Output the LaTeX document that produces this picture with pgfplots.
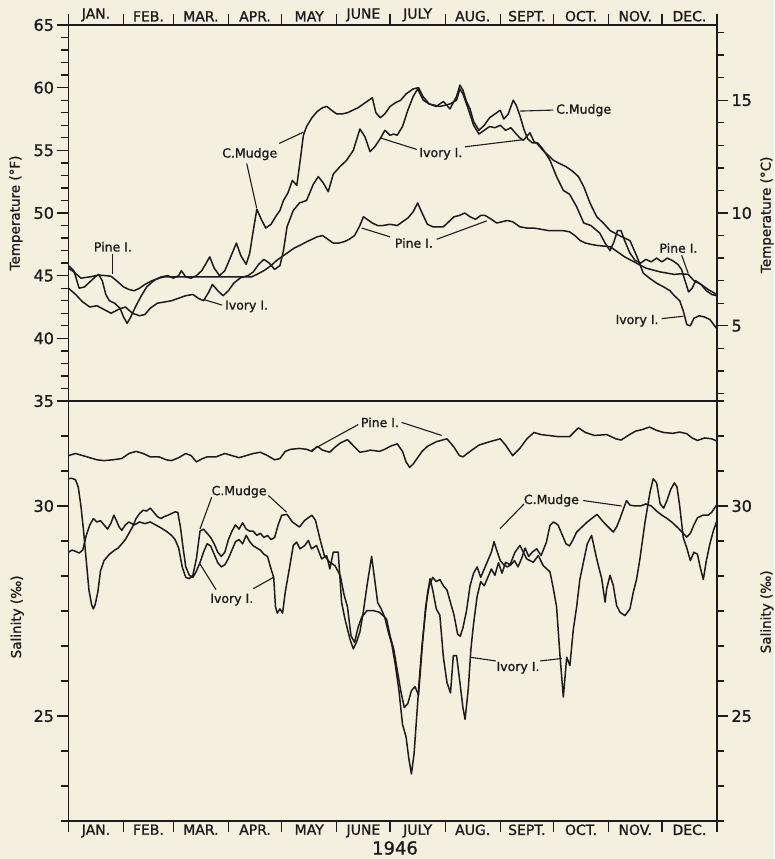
\documentclass[border=0pt]{standalone}
\usepackage{pgfplots}
\pgfplotsset{compat=1.18}
\usepackage{fontspec}
\setmainfont{DejaVu Sans}[FakeBold=1.2]
\definecolor{paper}{RGB}{243,240,224}
\definecolor{ink}{RGB}{28,28,28}
\begin{document}
\begin{tikzpicture}
\tikzset{
  lab/.style={font=\fontsize{12.5}{13}\selectfont, text=ink, inner sep=1pt},
  ptr/.style={draw=ink, line width=1.1pt},
}
\fill[paper] (0,0) rectangle (774pt,859pt);
\pgfplotsset{
  dline/.style={draw=ink, line width=1.5pt, line join=round, mark=none},
  base/.style={
    scale only axis, width=648.5pt,
    xmin=0, xmax=365,
    axis line style={ink, line width=1.7pt},
    tick style={ink, line width=1.3pt},
    tick align=outside,
    major tick length=11pt, minor tick length=7pt,
    /pgf/number format/assume math mode=true,
    yticklabel style={font=\fontsize{16}{16}\selectfont, text=ink},
    xtick={0,31,59,90,120,151,181,212,243,273,304,334,365},
    xticklabels={},
    extra x ticks={15.5,45,74.5,105,135.5,166,196.5,227.5,258,288.5,319,349.5},
    extra x tick labels={JAN.,FEB.,MAR.,APR.,MAY,JUNE,JULY,AUG.,SEPT.,OCT.,NOV.,DEC.},
    extra x tick style={major tick length=0pt},
    xticklabel style={font=\fontsize{14}{14}\selectfont, text=ink},
    clip=false,
  },
  overlay/.style={
    scale only axis, width=648.5pt,
    xmin=0, xmax=365,
    axis x line=none, axis y line*=right,
    axis line style={ink, line width=1.7pt},
    tick style={ink, line width=1.3pt},
    tick align=outside,
    major tick length=11pt, minor tick length=7pt,
    /pgf/number format/assume math mode=true,
    yticklabel style={font=\fontsize{16}{16}\selectfont, text=ink},
  }
}
% ---------------- Temperature panel ----------------
\begin{axis}[base, at={(68.5pt,458pt)}, anchor=south west, height=376pt,
  ymin=35, ymax=65, ytick={35,40,...,65},
  minor ytick={36,37,38,39,41,42,43,44,46,47,48,49,51,52,53,54,56,57,58,59,61,62,63,64},
  xtick pos=right, xticklabel pos=right, ytick pos=left,
  ylabel={Temperature (°F)},
  ylabel style={at={(axis description cs:-0.081,0.5)}, anchor=center, font=\fontsize{13.5}{13.5}\selectfont, text=ink}]
% Pine I.
\addplot[dline] coordinates {(0,45.6)(3,45.3)(7,44.8)(12,44.9)(17,45.05)(21,45.0)(24,44.95)(27,44.6)(31,44.1)(34,43.9)(37,43.8)(40,44.0)(43,44.3)(47,44.6)(51,44.8)(54,44.9)(103,44.9)(106,45.1)(110,45.4)(114,45.8)(117,46.2)(121,46.6)(124,46.9)(127,47.2)(130,47.4)(134,47.7)(137,47.9)(140,48.1)(143,48.2)(146,47.9)(149,47.6)(152,47.6)(155,47.7)(158,47.9)(161,48.2)(164,49.0)(166,49.7)(168,49.5)(171,49.2)(174,49.0)(177,49.0)(181,49.1)(185,49.0)(188,49.3)(191,49.6)(194,50.1)(196.5,50.8)(199,50.0)(202,49.1)(205,48.9)(208,48.9)(211,48.9)(214,49.3)(217,49.7)(220,49.8)(223,50.0)(226,49.7)(229,49.5)(232,49.8)(234.5,49.8)(238,49.5)(241,49.2)(244,49.3)(247,49.4)(250,49.3)(254,48.9)(258,48.8)(262,48.8)(266,48.7)(270,48.6)(274,48.6)(278,48.6)(282,48.5)(285,48.2)(288,47.8)(291,47.6)(294,47.5)(298,47.4)(302,47.35)(305,47.3)(309,46.9)(313,46.5)(317,46.2)(321,45.9)(325,45.6)(329,45.45)(333,45.3)(337,45.2)(341,45.1)(345,45.15)(348.8,45.1)(352,44.6)(356,44.3)(360,43.9)(364.7,43.5)};
% C. Mudge
\addplot[dline] coordinates {(0,45.8)(3,45.4)(6,44.0)(9,44.1)(12,44.5)(15,44.9)(17,45.1)(19,44.6)(21,43.5)(23,43.0)(26,42.8)(29,42.4)(31,41.7)(33,41.2)(35,41.7)(38,42.6)(41,43.4)(44,44.1)(48,44.6)(52,44.9)(56,45.0)(59,44.8)(62,45.0)(63.5,45.4)(66,44.9)(69,44.8)(72,45.0)(75,45.4)(77.5,46.0)(79.5,46.5)(82,45.6)(85,45.0)(88,45.4)(91,46.4)(94.5,47.6)(97,46.6)(100,45.9)(102,46.8)(104,48.6)(106,50.3)(108.5,49.5)(111,48.8)(114,49.1)(117,49.8)(119,50.2)(121,51.0)(123.5,51.6)(126,52.6)(128.5,52.2)(130.5,54.3)(132.2,56.2)(134,56.9)(137,57.6)(140,58.1)(143,58.4)(145.5,58.5)(148,58.2)(151,57.9)(154,57.9)(157,58.0)(160,58.2)(163,58.4)(166,58.7)(169,59.0)(171,59.2)(173,58.0)(175.5,57.6)(178,57.9)(181,58.5)(184,58.8)(187,59.0)(190,59.5)(194,59.9)(197,60.0)(199.5,59.3)(203,58.7)(207,58.5)(211,58.9)(214.7,58.3)(218.4,59.3)(220.3,60.2)(222,59.8)(224,58.9)(226,58.3)(228,57.3)(231,56.6)(234,57.0)(237,57.6)(240,57.9)(243,58.2)(245,57.5)(247.5,57.9)(250.3,59.0)(252,58.6)(254,57.8)(256.5,56.6)(258.5,55.9)(261,55.6)(264,55.6)(267,55.1)(271,54.2)(274.7,52.9)(278.5,51.8)(282,51.5)(286,50.5)(290,49.2)(294,49.0)(299,48.4)(302,47.6)(304.8,47.0)(307,47.7)(309,48.6)(311,48.6)(313,47.8)(316,46.8)(319,46.2)(322,46.0)(325,46.3)(328,46.1)(331,46.4)(334,46.1)(337,46.4)(340,46.2)(343,45.9)(345,45.5)(347,44.6)(349,43.7)(351,44.0)(353,44.6)(356,44.3)(359,43.8)(362,43.5)(364.7,43.4)};
% Ivory I.
\addplot[dline] coordinates {(0,44.0)(4,43.5)(8,42.9)(12,42.5)(16,42.6)(20,42.3)(24,42.0)(28,42.3)(32,42.5)(36,42.0)(40,41.8)(43,41.9)(46,42.4)(50,42.8)(54,42.9)(58,43.0)(62,43.2)(66,43.4)(70,43.5)(73,43.2)(76,43.0)(79,43.7)(81,44.3)(84,43.8)(87,43.4)(90,43.8)(93,44.4)(97,44.85)(101,45.0)(104,45.3)(107,45.9)(110,46.3)(113,46.0)(116,45.5)(119,45.8)(121,47.0)(123,48.9)(126.5,50.2)(130,50.8)(134,51.0)(137.8,52.3)(140.6,52.9)(143.4,52.4)(146.2,51.7)(149,53.1)(152.8,53.7)(156.5,54.2)(160.3,55.0)(164,56.7)(166.8,56.1)(169.7,54.9)(172.5,55.3)(175.3,55.9)(178.1,56.6)(181,56.2)(183,56.3)(185,56.2)(188,56.9)(191,58.2)(194,59.3)(196.5,59.9)(199.7,59.0)(203,58.7)(206,58.6)(209,58.5)(212,58.6)(214.7,58.7)(218.4,59.0)(220.3,59.9)(222,59.5)(225,58.3)(228,57.0)(231,56.3)(234,56.6)(237,56.9)(240,56.8)(243,57.0)(246,56.6)(249,56.8)(252,56.3)(254,56.0)(256,55.8)(259.7,56.4)(262,55.7)(264,55.5)(267,55.0)(273,54.2)(277,53.9)(280,53.7)(284,53.3)(287,52.9)(290,52.1)(293.5,50.8)(297.3,49.7)(301,49.2)(304.8,48.6)(310,48.2)(316,47.8)(320,46.5)(323.5,45.2)(327,44.8)(331,44.4)(335,44.1)(338.5,43.8)(341,43.4)(344,43.0)(346,42.2)(348,41.1)(350,41.0)(352,41.6)(355,41.8)(358,41.7)(361,41.5)(364.7,40.8)};
% annotations
\node[lab] at (axis cs:25,47.3) {Pine I.};
\draw[ptr] (axis cs:25,46.75) -- (axis cs:25,45.15);
\node[lab, anchor=west] at (axis cs:87.5,42.55) {Ivory I.};
\draw[ptr] (axis cs:86.5,42.65) -- (axis cs:76,43.1);
\node[lab] at (axis cs:102,54.7) {C.Mudge};
\draw[ptr] (axis cs:118.6,55.55) -- (axis cs:132.2,56.45);
\draw[ptr] (axis cs:100.3,53.95) -- (axis cs:105.9,50.4);
\node[lab] at (axis cs:209.6,54.72) {Ivory I.};
\draw[ptr] (axis cs:196,55.07) -- (axis cs:175.3,56.0);
\draw[ptr] (axis cs:223.1,55.28) -- (axis cs:256,55.85);
\node[lab, anchor=west] at (axis cs:273.8,58.2) {C.Mudge};
\draw[ptr] (axis cs:254.1,58.13) -- (axis cs:272.9,58.21);
\node[lab] at (axis cs:194.4,47.6) {Pine I.};
\draw[ptr] (axis cs:180.9,48.1) -- (axis cs:165,48.8);
\draw[ptr] (axis cs:207.2,47.9) -- (axis cs:235.4,49.37);
\node[lab] at (axis cs:343.3,47.2) {Pine I.};
\draw[ptr] (axis cs:345.1,46.63) -- (axis cs:348.8,45.17);
\node[lab] at (axis cs:320,41.4) {Ivory I.};
\draw[ptr] (axis cs:333.8,41.57) -- (axis cs:346,41.76);
\end{axis}
% Celsius scale on the right
\begin{axis}[overlay, at={(68.5pt,458pt)}, anchor=south west, height=376pt,
  ymin=1.66667, ymax=18.33333, ytick={5,10,15},
  minor ytick={2,3,4,6,7,8,9,11,12,13,14,16,17,18},
  ylabel={Temperature (°C)},
  ylabel style={at={(axis description cs:1.077,0.495)}, anchor=center, font=\fontsize{13.5}{13.5}\selectfont, text=ink}]
\end{axis}
% ---------------- Salinity panel ----------------
\begin{axis}[base, at={(68.5pt,38pt)}, anchor=south west, height=420pt,
  ymin=22.5, ymax=32.5, ytick={25,30},
  minor ytick={22.5,23.3333,24.1667,25.8333,26.6667,27.5,28.3333,29.1667,30.8333,31.6667,32.5},
  xtick pos=left, xticklabel pos=left, ytick pos=left,
  ylabel={Salinity (‰)},
  ylabel style={at={(axis description cs:-0.079,0.486)}, anchor=center, font=\fontsize{13.5}{13.5}\selectfont, text=ink}]
% Pine I.
\addplot[dline] coordinates {(0,31.2)(4,31.25)(8,31.2)(12,31.15)(16,31.1)(20,31.08)(25,31.1)(30,31.13)(34,31.25)(38,31.3)(42,31.25)(46,31.17)(51,31.17)(55,31.1)(58,31.08)(62,31.15)(66,31.25)(69,31.2)(72,31.05)(75,31.12)(78,31.17)(83,31.17)(88,31.25)(92,31.2)(96,31.15)(100,31.2)(104,31.25)(108,31.28)(112,31.2)(116,31.1)(119,31.13)(122,31.3)(125,31.35)(130,31.37)(134,31.35)(137,31.3)(140,31.42)(143,31.33)(147,31.28)(150,31.4)(153,31.5)(157,31.58)(160,31.45)(164,31.28)(167,31.3)(170,31.33)(175,31.3)(178,31.35)(181,31.42)(185,31.48)(188,31.3)(190,31.05)(192,30.92)(194,31.0)(196,31.12)(199,31.3)(202,31.42)(207,31.53)(213,31.6)(217,31.4)(220,31.2)(222,31.17)(226,31.3)(231,31.45)(237,31.53)(243,31.6)(246,31.45)(250,31.2)(254,31.37)(258,31.6)(262,31.75)(266,31.7)(270,31.68)(276,31.65)(282,31.65)(287,31.86)(291,31.75)(296,31.68)(303,31.7)(308,31.6)(311,31.57)(315,31.68)(319,31.78)(323,31.82)(327,31.88)(331,31.8)(335,31.75)(340,31.73)(344,31.76)(348,31.72)(351,31.62)(354,31.56)(358,31.62)(362,31.6)(364.7,31.55)};
% C. Mudge
\addplot[dline] coordinates {(0,28.9)(2,28.95)(4,28.92)(6,28.88)(8,28.95)(10,29.3)(12,29.55)(14,29.7)(16,29.62)(18,29.65)(20,29.55)(22,29.45)(24,29.6)(25.5,29.78)(27,29.65)(28.5,29.5)(30,29.42)(32,29.55)(34,29.62)(37,29.55)(40,29.62)(43,29.58)(46,29.62)(49,29.55)(52,29.48)(55,29.4)(58,29.3)(60,29.2)(62,29.0)(64,28.55)(66,28.3)(68,28.27)(70,28.35)(72,28.75)(74,29.4)(76,29.45)(78,29.35)(80,29.25)(82,29.1)(84,28.9)(86,28.8)(88,28.9)(90,29.2)(92,29.4)(94,29.55)(96,29.45)(98,29.6)(100,29.45)(102,29.4)(104,29.4)(106,29.3)(108,29.35)(110,29.25)(112,29.3)(114,29.2)(116,29.25)(118,29.55)(120,29.78)(123,29.8)(126,29.62)(130,29.5)(133,29.66)(137,29.78)(139,29.66)(141.5,29.22)(144,28.82)(147,28.66)(150,28.58)(153,28.34)(155,27.9)(157,27.6)(159,26.91)(161,26.75)(163,27.11)(165,27.35)(168,27.51)(171.5,27.51)(175,27.47)(179,27.31)(181,26.91)(183,26.6)(185,26.1)(187,25.6)(189,25.2)(191,25.3)(193,25.6)(195,25.7)(197,25.5)(199,26.6)(201,27.6)(203,28.1)(205,28.3)(207,28.2)(209,28.25)(211,28.1)(213,28.0)(215,27.7)(217,27.4)(219,26.95)(220.5,26.9)(222,27.1)(224,27.5)(226,28.1)(228,28.4)(230,28.55)(232,28.3)(234,28.5)(236,28.7)(238,28.9)(239.5,29.15)(241,28.95)(243,28.7)(245,28.6)(247,28.55)(249,28.6)(251,28.7)(253,28.55)(255,28.75)(257,29.0)(259,28.8)(261,28.9)(263.5,28.98)(266,28.82)(269,29.14)(271,29.54)(273,29.62)(275.5,29.55)(278,29.3)(280,29.1)(282,29.05)(284,29.2)(286,29.38)(289,29.5)(292,29.62)(295,29.72)(297.5,29.8)(301,29.62)(304.7,29.46)(306.6,29.38)(308.5,29.5)(310.4,29.7)(312.5,29.95)(314.1,30.13)(316,30.02)(319,30.0)(322,30.0)(325,30.05)(328,30.0)(331,29.88)(334,29.78)(337,29.7)(340,29.6)(343,29.48)(346,29.35)(348,29.26)(350,29.35)(352,29.55)(354,29.72)(357,29.78)(360,29.78)(362,29.85)(364.7,30.02)};
% Ivory I.
\addplot[dline] coordinates {(0,30.65)(2,30.66)(4,30.62)(5.5,30.45)(7,30.0)(8.5,29.4)(10,28.7)(11.5,28.0)(13,27.65)(14,27.55)(15,27.65)(16.5,27.95)(18,28.45)(20,28.7)(23,28.85)(26,28.95)(28,29.0)(30,29.1)(32,29.2)(34,29.35)(36,29.5)(38,29.7)(40,29.82)(42,29.9)(44,29.88)(46,29.95)(48,29.85)(50,29.75)(52,29.7)(54,29.75)(56,29.78)(58,29.82)(60,29.86)(61.5,29.85)(63,29.5)(64.5,29.0)(66,28.55)(68,28.35)(70,28.3)(72,28.45)(74,28.65)(76,28.9)(78,29.1)(80,29.05)(82,28.85)(84,28.65)(86,28.55)(88,28.6)(90,28.75)(92,28.95)(94,29.15)(96,29.2)(98,29.1)(100,29.3)(102,29.15)(104,29.05)(106,29.0)(108,28.95)(110,28.85)(112,28.8)(114,28.5)(115.5,28.3)(116.5,27.6)(117.5,27.45)(119,27.55)(120.5,27.45)(122,27.95)(124.6,28.58)(126.5,29.06)(128.4,29.14)(130.3,28.98)(133,29.06)(135,29.18)(136.8,28.98)(139.6,29.06)(142.5,28.74)(145.3,28.82)(147.1,28.5)(149,28.9)(151.8,28.9)(153.7,27.71)(155.6,27.31)(158.4,26.83)(160.3,26.6)(162,26.75)(164,27.0)(166,27.5)(168,28.1)(170.6,28.8)(172.5,28.2)(174,27.7)(176,27.55)(178,27.35)(180,27.0)(182,26.7)(184,26.2)(186,25.6)(188,24.8)(190,24.5)(191.5,24.0)(193,23.62)(194.5,24.1)(196,25.0)(197.5,25.9)(199,26.7)(200.5,27.3)(202,27.9)(203.5,28.27)(205,28.0)(207,27.55)(209,27.4)(211,26.4)(213,25.8)(215,25.55)(216.6,26.44)(218.4,26.44)(220,25.9)(222,25.2)(223.2,24.92)(225,25.64)(226.5,26.6)(228,27.2)(230,27.85)(232,28.2)(234,28.1)(236,28.3)(238,28.5)(240,28.35)(242,28.65)(244,28.4)(246,28.66)(248.5,28.6)(251.3,28.9)(254.1,29.06)(257.9,28.74)(261.6,28.66)(264.4,28.82)(267.2,28.58)(271,28.43)(272.9,28.03)(274.7,27.6)(276.6,26.45)(278.5,25.45)(280.4,26.4)(282.2,26.2)(284.1,27.05)(286,27.6)(287.8,28.25)(290,28.7)(292,29.1)(294.4,29.3)(297.3,28.74)(300.1,28.27)(302,27.71)(302.9,28.03)(304.8,28.35)(306.6,28.11)(308.5,27.63)(310.4,27.47)(313.2,27.39)(316,27.55)(317.9,27.95)(319.8,28.27)(321.6,28.74)(324.5,29.62)(327.3,30.33)(329.1,30.65)(331,30.55)(333,30.05)(335,29.95)(337,30.15)(339,30.4)(341,30.55)(342.5,30.45)(344,30.0)(346,29.25)(348,29.0)(350,28.7)(352,28.9)(354,28.85)(355.5,28.55)(357.3,28.25)(359,28.7)(361,29.1)(362.9,29.4)(364.7,29.62)};
% annotations
\node[lab] at (axis cs:175.3,31.99) {Pine I.};
\draw[ptr] (axis cs:163.1,31.94) -- (axis cs:136.9,31.33);
\draw[ptr] (axis cs:187.5,31.99) -- (axis cs:210,31.68);
\node[lab] at (axis cs:96,30.34) {C.Mudge};
\draw[ptr] (axis cs:80.6,30.21) -- (axis cs:74,29.45);
\draw[ptr] (axis cs:112.5,30.25) -- (axis cs:122.8,29.85);
\node[lab] at (axis cs:91.9,27.77) {Ivory I.};
\draw[ptr] (axis cs:83,28.01) -- (axis cs:74,28.62);
\draw[ptr] (axis cs:104,28.03) -- (axis cs:115.3,28.3);
\node[lab] at (axis cs:271.8,30.13) {C.Mudge};
\draw[ptr] (axis cs:256.4,30.05) -- (axis cs:242.9,29.46);
\draw[ptr] (axis cs:289.7,30.13) -- (axis cs:311.3,30.0);
\node[lab] at (axis cs:253,26.15) {Ivory I.};
\draw[ptr] (axis cs:240.5,26.31) -- (axis cs:226,26.4);
\draw[ptr] (axis cs:265.5,26.31) -- (axis cs:277.6,26.37);
\end{axis}
\begin{axis}[overlay, at={(68.5pt,38pt)}, anchor=south west, height=420pt,
  ymin=22.5, ymax=32.5, ytick={25,30},
  minor ytick={22.5,23.3333,24.1667,25.8333,26.6667,27.5,28.3333,29.1667,30.8333,31.6667,32.5},
  ylabel={Salinity (‰)},
  ylabel style={at={(axis description cs:1.077,0.498)}, anchor=center, font=\fontsize{13.5}{13.5}\selectfont, text=ink}]
\end{axis}
\node[font=\fontsize{18}{18}\selectfont, text=ink, inner sep=0pt] at (395pt,11pt) {1946};
\pgfresetboundingbox
\useasboundingbox (0,0) rectangle (774pt,859pt);
\end{tikzpicture}
\end{document}
